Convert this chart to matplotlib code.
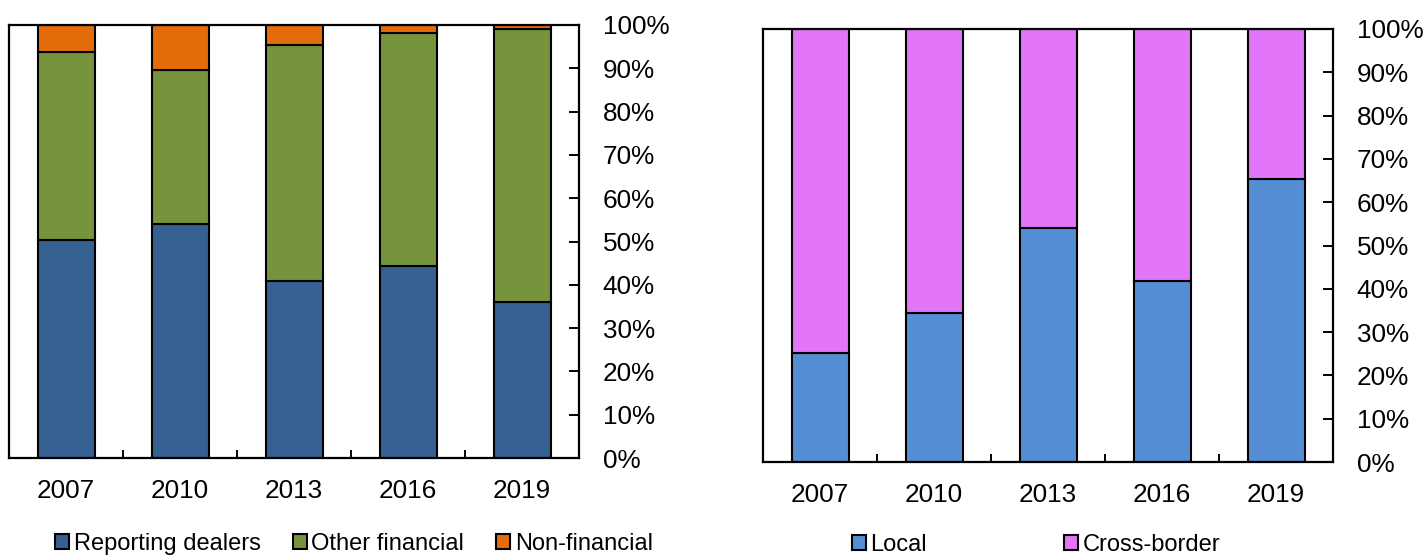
import matplotlib
matplotlib.use("Agg")
import matplotlib.pyplot as plt
from matplotlib.ticker import FixedLocator, PercentFormatter
import numpy as np

plt.rcParams['font.family'] = ['Liberation Sans', 'DejaVu Sans']

years = ["2007", "2010", "2013", "2016", "2019"]

# Left panel: shares by counterparty (%)
reporting_dealers = [50.3, 54.0, 40.9, 44.3, 36.1]
other_financial = [43.5, 35.6, 54.5, 53.9, 63.0]
non_financial = [6.2, 10.4, 4.6, 1.8, 0.9]

# Right panel: local vs cross-border (%)
local = [25.1, 34.5, 54.0, 41.9, 65.3]
cross_border = [74.9, 65.5, 46.0, 58.1, 34.7]

c_rep = "#366092"
c_oth = "#77933C"
c_non = "#E46C0A"
c_loc = "#558ED5"
c_cro = "#E375FB"

W, H = 1426, 556
fig = plt.figure(figsize=(W / 100, H / 100), dpi=100)

def make_ax(x0, x1, y0, y1):
    return fig.add_axes([x0 / W, 1 - y1 / H, (x1 - x0) / W, (y1 - y0) / H])

ax1 = make_ax(9, 579, 25, 458)
ax2 = make_ax(763, 1333, 29, 462)

def style(ax):
    ax.set_xlim(-0.5, 4.5)
    ax.set_ylim(0, 100)
    for s in ax.spines.values():
        s.set_linewidth(1.6)
        s.set_color("black")
    ax.yaxis.tick_right()
    ax.yaxis.set_major_locator(FixedLocator(np.arange(0, 101, 10)))
    ax.yaxis.set_major_formatter(PercentFormatter(decimals=0))
    ax.tick_params(axis="y", direction="in", length=7, width=1.4, pad=17,
                   labelsize=18.8, left=False, right=True)
    ax.set_xticks(range(len(years)))
    ax.set_xticklabels(years)
    ax.tick_params(axis="x", which="major", length=0, pad=15, labelsize=18.8)
    ax.xaxis.set_minor_locator(FixedLocator([0.5, 1.5, 2.5, 3.5]))
    ax.tick_params(axis="x", which="minor", direction="in", length=6, width=1.4)

x = np.arange(len(years))
bw = 0.5
ek = dict(edgecolor="black", linewidth=1.5)

b1 = ax1.bar(x, reporting_dealers, bw, color=c_rep, label="Reporting dealers", **ek)
bottom2 = np.array(reporting_dealers)
b2 = ax1.bar(x, other_financial, bw, bottom=bottom2, color=c_oth, label="Other financial", **ek)
bottom3 = bottom2 + np.array(other_financial)
b3 = ax1.bar(x, non_financial, bw, bottom=bottom3, color=c_non, label="Non-financial", **ek)
style(ax1)

r1 = ax2.bar(x, local, bw, color=c_loc, label="Local", **ek)
r2 = ax2.bar(x, cross_border, bw, bottom=local, color=c_cro, label="Cross-border", **ek)
style(ax2)

leg_kw = dict(frameon=False, fontsize=17, handlelength=0.6, handleheight=0.6,
              handletextpad=0.2, borderaxespad=0, borderpad=0)
fig.legend(handles=[b1, b2, b3], loc="center", bbox_to_anchor=(354 / W, 1 - 544 / H),
           ncol=3, columnspacing=1.35, **leg_kw)
fig.legend(handles=[r1, r2], loc="center", bbox_to_anchor=(1036 / W, 1 - 545 / H),
           ncol=2, columnspacing=5.8, **leg_kw)

fig.savefig("out.png", dpi=100)
